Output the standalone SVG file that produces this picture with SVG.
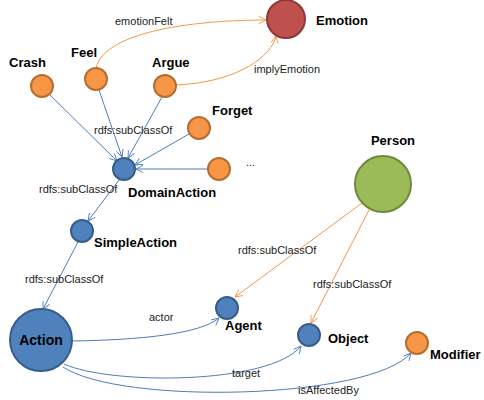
<svg xmlns="http://www.w3.org/2000/svg" width="484" height="400" viewBox="0 0 484 400">
  <style>
    .lbl { font-family: "Liberation Sans", Arial, sans-serif; font-size: 13px; font-weight: bold; fill: #000; }
    .elbl { font-family: "Liberation Sans", Arial, sans-serif; font-size: 11px; fill: #222; }
    .orange { fill: #F79646; stroke: #B66D31; stroke-width: 2; }
    .blue { fill: #4F81BD; stroke: #385D8A; stroke-width: 2; }
    .red { fill: #C0504D; stroke: #8C3836; stroke-width: 2; }
    .green { fill: #9BBB59; stroke: #71893F; stroke-width: 2; }
    .eb { fill: none; stroke: #4A7EBB; stroke-width: 1; }
    .eo { fill: none; stroke: #F79646; stroke-width: 1; }
  </style>
  <defs>
    <marker id="arrB" viewBox="0 0 10 10" refX="9" refY="5" markerWidth="9" markerHeight="9" orient="auto" markerUnits="userSpaceOnUse">
      <path d="M1,1 L9,5 L1,9" fill="none" stroke="#4A7EBB" stroke-width="1"/>
    </marker>
    <marker id="arrO" viewBox="0 0 10 10" refX="9" refY="5" markerWidth="9" markerHeight="9" orient="auto" markerUnits="userSpaceOnUse">
      <path d="M1,1 L9,5 L1,9" fill="none" stroke="#F79646" stroke-width="1"/>
    </marker>
  </defs>

  <g id="connectors">
    <!-- subclass links into DomainAction -->
    <line class="eb" x1="49" y1="94" x2="117" y2="161" marker-end="url(#arrB)"/>
    <line class="eb" x1="99" y1="90" x2="122" y2="157" marker-end="url(#arrB)"/>
    <line class="eb" x1="162" y1="97" x2="128" y2="158" marker-end="url(#arrB)"/>
    <line class="eb" x1="189" y1="134" x2="135" y2="165" marker-end="url(#arrB)"/>
    <line class="eb" x1="208" y1="169" x2="136" y2="169" marker-end="url(#arrB)"/>
    <!-- DomainAction -> SimpleAction -> Action -->
    <line class="eb" x1="119" y1="180" x2="88" y2="221" marker-end="url(#arrB)"/>
    <line class="eb" x1="78" y1="242" x2="43" y2="309" marker-end="url(#arrB)"/>
    <!-- properties from Action -->
    <path class="eb" d="M72,341 C140,340 200,334 219,318" marker-end="url(#arrB)"/>
    <path class="eb" d="M64,364 C110,385 270,385 301,346" marker-end="url(#arrB)"/>
    <path class="eb" d="M63,367 C120,405 370,400 411,353" marker-end="url(#arrB)"/>
    <!-- Person subclasses -->
    <line class="eo" x1="362" y1="203" x2="235" y2="297" marker-end="url(#arrO)"/>
    <line class="eo" x1="370" y1="208" x2="311" y2="323" marker-end="url(#arrO)"/>
    <!-- emotion links -->
    <path class="eo" d="M96,68 C105,30 200,20 266,20" marker-end="url(#arrO)"/>
    <path class="eo" d="M176,85 C240,82 272,55 276,36" marker-end="url(#arrO)"/>

    <text class="elbl" x="115" y="25">emotionFelt</text>
    <text class="elbl" x="254" y="73">implyEmotion</text>
    <text class="elbl" x="94" y="134">rdfs:subClassOf</text>
    <text class="elbl" x="39" y="193">rdfs:subClassOf</text>
    <text class="elbl" x="25" y="283">rdfs:subClassOf</text>
    <text class="elbl" x="238" y="254">rdfs:subClassOf</text>
    <text class="elbl" x="313" y="288">rdfs:subClassOf</text>
    <text class="elbl" x="149" y="321">actor</text>
    <text class="elbl" x="232" y="377">target</text>
    <text class="elbl" x="298" y="394">isAffectedBy</text>
  </g>

  <g id="emotion">
    <circle class="red" cx="286" cy="19" r="19"/>
    <text class="lbl" x="316" y="25">Emotion</text>
  </g>
  <g id="crash">
    <circle class="orange" cx="42" cy="86" r="11"/>
    <text class="lbl" x="9" y="67">Crash</text>
  </g>
  <g id="feel">
    <circle class="orange" cx="96" cy="79" r="11"/>
    <text class="lbl" x="71" y="57">Feel</text>
  </g>
  <g id="argue">
    <circle class="orange" cx="165" cy="86" r="11"/>
    <text class="lbl" x="152" y="67">Argue</text>
  </g>
  <g id="forget">
    <circle class="orange" cx="199" cy="128" r="11"/>
    <text class="lbl" x="212" y="115">Forget</text>
  </g>
  <g id="more">
    <circle class="orange" cx="219" cy="169" r="11"/>
    <text class="elbl" x="246" y="166">...</text>
  </g>
  <g id="domainAction">
    <circle class="blue" cx="124" cy="169" r="11"/>
    <text class="lbl" x="128" y="197">DomainAction</text>
  </g>
  <g id="simpleAction">
    <circle class="blue" cx="82" cy="231" r="11"/>
    <text class="lbl" x="94" y="247">SimpleAction</text>
  </g>
  <g id="action">
    <circle class="blue" cx="41" cy="340" r="31"/>
    <text class="lbl" x="41" y="345" text-anchor="middle" style="font-size:14px">Action</text>
  </g>
  <g id="agent">
    <circle class="blue" cx="227" cy="308" r="11"/>
    <text class="lbl" x="225" y="330">Agent</text>
  </g>
  <g id="object">
    <circle class="blue" cx="309" cy="335" r="11"/>
    <text class="lbl" x="328" y="343">Object</text>
  </g>
  <g id="modifier">
    <circle class="orange" cx="417" cy="343" r="11"/>
    <text class="lbl" x="430" y="359">Modifier</text>
  </g>
  <g id="person">
    <circle class="green" cx="383" cy="184" r="28"/>
    <text class="lbl" x="393" y="145" text-anchor="middle">Person</text>
  </g>
</svg>
